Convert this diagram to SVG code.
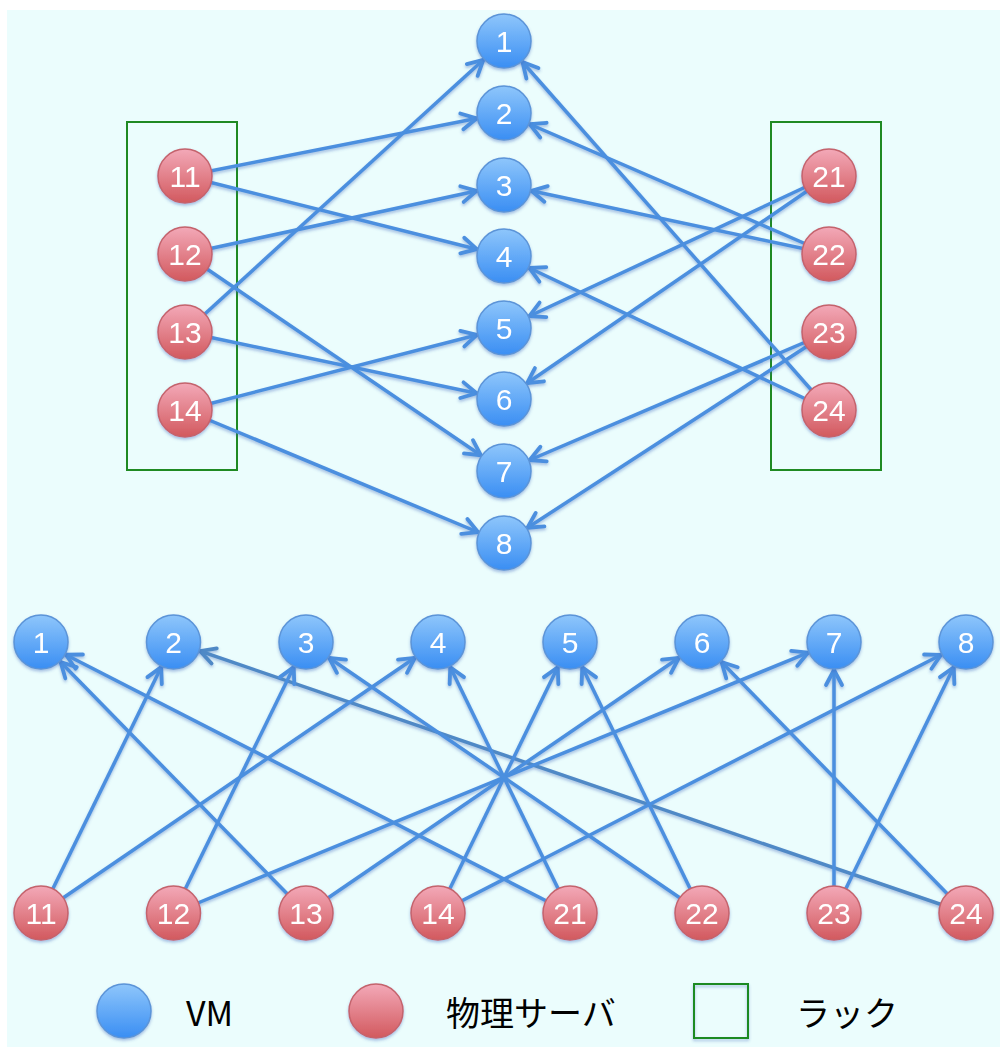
<svg xmlns="http://www.w3.org/2000/svg" width="1000" height="1047" viewBox="0 0 1000 1047">
  <defs>
    <linearGradient id="gVM" x1="0" y1="0" x2="0" y2="1">
      <stop offset="0" stop-color="#8ec6fb"/>
      <stop offset="1" stop-color="#3a8ef3"/>
    </linearGradient>
    <linearGradient id="gPS" x1="0" y1="0" x2="0" y2="1">
      <stop offset="0" stop-color="#f3a9b8"/>
      <stop offset="1" stop-color="#d2595e"/>
    </linearGradient>
    <filter id="shadow" x="-20%" y="-20%" width="140%" height="150%">
      <feDropShadow dx="0" dy="2" stdDeviation="1.6" flood-color="#3a5fb8" flood-opacity="0.4"/>
    </filter>
    <marker id="arrow" markerUnits="userSpaceOnUse" markerWidth="60" markerHeight="30" refX="28" refY="0" orient="auto" overflow="visible">
      <path d="M-15,-8 L0,0 L-15,8" fill="none" stroke="#4b8fdf" stroke-width="3.8" stroke-linecap="round" stroke-linejoin="round"/>
    </marker>
    <marker id="arrowGrey" markerUnits="userSpaceOnUse" markerWidth="60" markerHeight="30" refX="28" refY="0" orient="auto" overflow="visible">
      <path d="M-15,-8 L0,0 L-15,8" fill="none" stroke="#5089c6" stroke-width="3.8" stroke-linecap="round" stroke-linejoin="round"/>
    </marker>
  </defs>
  <style>
    .edge { stroke: #4b8fdf; stroke-width: 3.5; fill: none; marker-end: url(#arrow); }
    .edge.grey { stroke: #5089c6; marker-end: url(#arrowGrey); }
    .vm { fill: url(#gVM); stroke: #5b94d8; stroke-width: 1.5; }
    .ps { fill: url(#gPS); stroke: #c4636c; stroke-width: 1.5; }
    .num { font-family: "Liberation Sans", "DejaVu Sans", sans-serif; font-size: 30px; fill: #ffffff; text-anchor: middle; }
    .rack { fill: none; stroke: #1f8a23; stroke-width: 2; }
    .legend { font-family: "Noto Sans CJK JP", "Noto Sans", sans-serif; font-size: 34px; fill: #000000; }
  </style>

  <!-- background -->
  <rect x="7" y="10" width="993" height="1037" fill="#ebfdfd"/>

  <!-- racks -->
  <g id="rack-left"><rect class="rack" x="127" y="122" width="110" height="348"/></g>
  <g id="rack-right"><rect class="rack" x="771" y="122" width="110" height="348"/></g>

  <!-- connectors -->
  <g id="connectors" filter="url(#shadow)">
    <!-- upper layout: servers to VMs -->
    <line class="edge" x1="185" y1="176" x2="504" y2="113"/>
    <line class="edge" x1="185" y1="176" x2="504" y2="256"/>
    <line class="edge" x1="185" y1="254" x2="504" y2="185"/>
    <line class="edge" x1="185" y1="254" x2="504" y2="471"/>
    <line class="edge" x1="185" y1="332" x2="504" y2="41"/>
    <line class="edge" x1="185" y1="332" x2="504" y2="399"/>
    <line class="edge" x1="185" y1="410" x2="504" y2="328"/>
    <line class="edge" x1="185" y1="410" x2="504" y2="543"/>
    <line class="edge" x1="829" y1="176" x2="504" y2="328"/>
    <line class="edge" x1="829" y1="176" x2="504" y2="399"/>
    <line class="edge" x1="829" y1="254" x2="504" y2="113"/>
    <line class="edge" x1="829" y1="254" x2="504" y2="185"/>
    <line class="edge" x1="829" y1="332" x2="504" y2="471"/>
    <line class="edge" x1="829" y1="332" x2="504" y2="543"/>
    <line class="edge" x1="829" y1="410" x2="504" y2="41"/>
    <line class="edge" x1="829" y1="410" x2="504" y2="256"/>
    <!-- lower layout: servers to VMs -->
    <line class="edge grey" x1="966" y1="913" x2="173.5" y2="642"/>
    <line class="edge" x1="41" y1="913" x2="173.5" y2="642"/>
    <line class="edge" x1="41" y1="913" x2="438" y2="642"/>
    <line class="edge" x1="173.5" y1="913" x2="306" y2="642"/>
    <line class="edge" x1="173.5" y1="913" x2="834" y2="642"/>
    <line class="edge" x1="306" y1="913" x2="41" y2="642"/>
    <line class="edge" x1="306" y1="913" x2="702" y2="642"/>
    <line class="edge" x1="438" y1="913" x2="570" y2="642"/>
    <line class="edge" x1="438" y1="913" x2="966" y2="642"/>
    <line class="edge" x1="570" y1="913" x2="41" y2="642"/>
    <line class="edge" x1="570" y1="913" x2="438" y2="642"/>
    <line class="edge" x1="702" y1="913" x2="306" y2="642"/>
    <line class="edge" x1="702" y1="913" x2="570" y2="642"/>
    <line class="edge" x1="834" y1="913" x2="834" y2="642"/>
    <line class="edge" x1="834" y1="913" x2="966" y2="642"/>
    <line class="edge" x1="966" y1="913" x2="702" y2="642"/>
  </g>

  <!-- upper VMs -->
  <g id="vm1-top" filter="url(#shadow)"><circle class="vm" cx="504" cy="41" r="27"/><text class="num" x="504" y="52">1</text></g>
  <g id="vm2-top" filter="url(#shadow)"><circle class="vm" cx="504" cy="113" r="27"/><text class="num" x="504" y="124">2</text></g>
  <g id="vm3-top" filter="url(#shadow)"><circle class="vm" cx="504" cy="185" r="27"/><text class="num" x="504" y="196">3</text></g>
  <g id="vm4-top" filter="url(#shadow)"><circle class="vm" cx="504" cy="256" r="27"/><text class="num" x="504" y="267">4</text></g>
  <g id="vm5-top" filter="url(#shadow)"><circle class="vm" cx="504" cy="328" r="27"/><text class="num" x="504" y="339">5</text></g>
  <g id="vm6-top" filter="url(#shadow)"><circle class="vm" cx="504" cy="399" r="27"/><text class="num" x="504" y="410">6</text></g>
  <g id="vm7-top" filter="url(#shadow)"><circle class="vm" cx="504" cy="471" r="27"/><text class="num" x="504" y="482">7</text></g>
  <g id="vm8-top" filter="url(#shadow)"><circle class="vm" cx="504" cy="543" r="27"/><text class="num" x="504" y="554">8</text></g>

  <!-- upper servers -->
  <g id="ps11-top" filter="url(#shadow)"><circle class="ps" cx="185" cy="176" r="27"/><text class="num" x="185" y="187">11</text></g>
  <g id="ps12-top" filter="url(#shadow)"><circle class="ps" cx="185" cy="254" r="27"/><text class="num" x="185" y="265">12</text></g>
  <g id="ps13-top" filter="url(#shadow)"><circle class="ps" cx="185" cy="332" r="27"/><text class="num" x="185" y="343">13</text></g>
  <g id="ps14-top" filter="url(#shadow)"><circle class="ps" cx="185" cy="410" r="27"/><text class="num" x="185" y="421">14</text></g>
  <g id="ps21-top" filter="url(#shadow)"><circle class="ps" cx="829" cy="176" r="27"/><text class="num" x="829" y="187">21</text></g>
  <g id="ps22-top" filter="url(#shadow)"><circle class="ps" cx="829" cy="254" r="27"/><text class="num" x="829" y="265">22</text></g>
  <g id="ps23-top" filter="url(#shadow)"><circle class="ps" cx="829" cy="332" r="27"/><text class="num" x="829" y="343">23</text></g>
  <g id="ps24-top" filter="url(#shadow)"><circle class="ps" cx="829" cy="410" r="27"/><text class="num" x="829" y="421">24</text></g>

  <!-- lower VMs -->
  <g id="vm1-bottom" filter="url(#shadow)"><circle class="vm" cx="41" cy="642" r="27"/><text class="num" x="41" y="653">1</text></g>
  <g id="vm2-bottom" filter="url(#shadow)"><circle class="vm" cx="173.5" cy="642" r="27"/><text class="num" x="173.5" y="653">2</text></g>
  <g id="vm3-bottom" filter="url(#shadow)"><circle class="vm" cx="306" cy="642" r="27"/><text class="num" x="306" y="653">3</text></g>
  <g id="vm4-bottom" filter="url(#shadow)"><circle class="vm" cx="438" cy="642" r="27"/><text class="num" x="438" y="653">4</text></g>
  <g id="vm5-bottom" filter="url(#shadow)"><circle class="vm" cx="570" cy="642" r="27"/><text class="num" x="570" y="653">5</text></g>
  <g id="vm6-bottom" filter="url(#shadow)"><circle class="vm" cx="702" cy="642" r="27"/><text class="num" x="702" y="653">6</text></g>
  <g id="vm7-bottom" filter="url(#shadow)"><circle class="vm" cx="834" cy="642" r="27"/><text class="num" x="834" y="653">7</text></g>
  <g id="vm8-bottom" filter="url(#shadow)"><circle class="vm" cx="966" cy="642" r="27"/><text class="num" x="966" y="653">8</text></g>

  <!-- lower servers -->
  <g id="ps11-bottom" filter="url(#shadow)"><circle class="ps" cx="41" cy="913" r="27"/><text class="num" x="41" y="924">11</text></g>
  <g id="ps12-bottom" filter="url(#shadow)"><circle class="ps" cx="173.5" cy="913" r="27"/><text class="num" x="173.5" y="924">12</text></g>
  <g id="ps13-bottom" filter="url(#shadow)"><circle class="ps" cx="306" cy="913" r="27"/><text class="num" x="306" y="924">13</text></g>
  <g id="ps14-bottom" filter="url(#shadow)"><circle class="ps" cx="438" cy="913" r="27"/><text class="num" x="438" y="924">14</text></g>
  <g id="ps21-bottom" filter="url(#shadow)"><circle class="ps" cx="570" cy="913" r="27"/><text class="num" x="570" y="924">21</text></g>
  <g id="ps22-bottom" filter="url(#shadow)"><circle class="ps" cx="702" cy="913" r="27"/><text class="num" x="702" y="924">22</text></g>
  <g id="ps23-bottom" filter="url(#shadow)"><circle class="ps" cx="834" cy="913" r="27"/><text class="num" x="834" y="924">23</text></g>
  <g id="ps24-bottom" filter="url(#shadow)"><circle class="ps" cx="966" cy="913" r="27"/><text class="num" x="966" y="924">24</text></g>

  <!-- legend -->
  <g id="legend">
    <circle class="vm" cx="124" cy="1011" r="27" filter="url(#shadow)"/>
    <text class="legend" x="186" y="1026">VM</text>
    <circle class="ps" cx="376" cy="1011" r="27" filter="url(#shadow)"/>
    <text class="legend" x="446" y="1026">物理サーバ</text>
    <rect class="rack" x="694" y="984" width="54" height="54" filter="url(#shadow)"/>
    <text class="legend" x="796" y="1026">ラック</text>
  </g>
</svg>
